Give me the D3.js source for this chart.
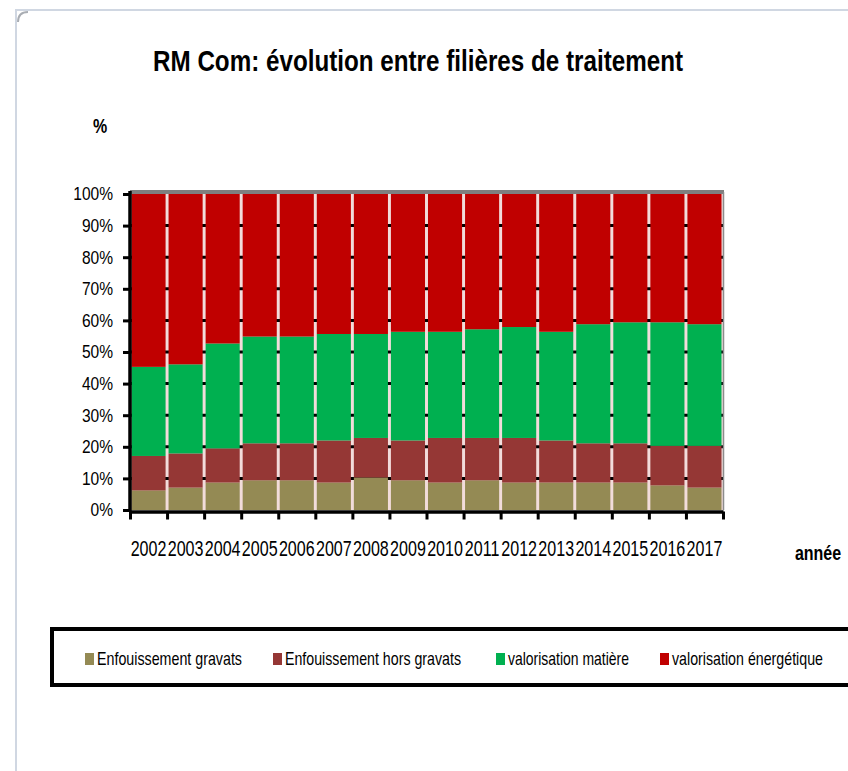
<!DOCTYPE html>
<html>
<head>
<meta charset="utf-8">
<script src="https://cdn.jsdelivr.net/npm/d3@7"></script>
<style>
  body { margin: 0; background: #fff; }
  text { font-family: "Liberation Sans", Arial, sans-serif; fill: #000; }
</style>
</head>
<body>
<div id="chart"></div>
<script>
// data (shares in %) //
let years = ["2002","2003","2004","2005","2006","2007","2008","2009","2010","2011","2012","2013","2014","2015","2016","2017"];
let gravats     = [6.2, 7.1, 8.7, 9.4, 9.4, 8.7, 10.3, 9.4, 8.7, 9.4, 8.7, 8.7, 8.7, 8.7, 7.8, 7.1];
let horsGravats = [10.9, 10.8, 10.8, 11.7, 11.7, 13.3, 12.5, 12.6, 14.1, 13.4, 14.1, 13.3, 12.4, 12.4, 12.5, 13.2];
let matiere     = [28.2, 28.2, 33.2, 33.8, 33.8, 33.7, 32.9, 34.4, 33.6, 34.4, 35.1, 34.4, 37.7, 38.3, 39.1, 38.5];
let energetique = [54.7, 53.9, 47.3, 45.1, 45.1, 44.3, 44.3, 43.6, 43.6, 42.8, 42.1, 43.6, 41.2, 40.6, 40.6, 41.2];
let seriesNames = ["Enfouissement gravats", "Enfouissement hors gravats", "valorisation matière", "valorisation énergétique"];
let yTicks = [0, 10, 20, 30, 40, 50, 60, 70, 80, 90, 100];

let keys = ["g", "h", "m", "e"];
let colors = {g: "#948a54", h: "#953735", m: "#00b050", e: "#c00000"};

let table = years.map(function(y, i) {
    return {year: y, g: gravats[i], h: horsGravats[i], m: matiere[i], e: energetique[i]};
});

// chart setup //
let SVGwidth = 848, SVGheight = 771;
let plot = {left: 130, right: 723, top: 194, bottom: 510};

let svg = d3.select("#chart").append("svg")
    .attr("width", SVGwidth)
    .attr("height", SVGheight);

// squeeze text horizontally (the original font is a narrow one)
function squeeze(sel, factor) {
    sel.each(function() {
        let w = this.getComputedTextLength();
        d3.select(this).attr("textLength", w * factor).attr("lengthAdjust", "spacingAndGlyphs");
    });
}

// panel border
svg.append("path")
    .attr("d", "M16,771 L16,10 L848,10")
    .attr("fill", "none")
    .attr("stroke", "#d0d7e2")
    .attr("stroke-width", 2);
svg.append("path")
    .attr("d", "M18,22 Q18,12 28,12")
    .attr("fill", "none")
    .attr("stroke", "#a9adb3")
    .attr("stroke-width", 2);

let xScale = d3.scaleBand().domain(years).range([plot.left, plot.right])
    .paddingInner(0.08).paddingOuter(0.04);
let xEdge = d3.scaleLinear().domain([0, years.length]).range([plot.left, plot.right]);
let yScale = d3.scaleLinear().domain([0, 100]).range([plot.bottom, plot.top]);

// plot background (shows through the gaps)
svg.append("rect")
    .attr("x", plot.left)
    .attr("y", plot.top)
    .attr("width", plot.right - plot.left)
    .attr("height", plot.bottom - plot.top)
    .attr("fill", "#f2dcdb");

// gridlines behind bars
svg.append("g").selectAll("line")
    .data(yTicks.slice(1, -1))
    .enter().append("line")
    .attr("x1", plot.left)
    .attr("x2", plot.right)
    .attr("y1", function(d) { return yScale(d); })
    .attr("y2", function(d) { return yScale(d); })
    .attr("stroke", "#000")
    .attr("stroke-width", 3);

let stacked = d3.stack().keys(keys)(table);

svg.append("g").selectAll("g")
    .data(stacked)
    .enter().append("g")
    .attr("fill", function(d) { return colors[d.key]; })
    .selectAll("rect")
    .data(function(d) { return d; })
    .enter().append("rect")
    .attr("x", function(d) { return xScale(d.data.year); })
    .attr("width", xScale.bandwidth())
    .attr("y", function(d) { return yScale(d[1]); })
    .attr("height", function(d) { return yScale(d[0]) - yScale(d[1]); });

// top and right border of plot area
svg.append("line")
    .attr("x1", plot.left).attr("x2", plot.right + 1)
    .attr("y1", plot.top - 2).attr("y2", plot.top - 2)
    .attr("stroke", "#7f7f7f").attr("stroke-width", 4);
svg.append("line")
    .attr("x1", plot.right + 0.5).attr("x2", plot.right + 0.5)
    .attr("y1", plot.top - 2).attr("y2", plot.bottom)
    .attr("stroke", "#8c8c8c").attr("stroke-width", 1.5);

// y axis
let yAxis = svg.append("g")
    .attr("transform", "translate(" + plot.left + ",0)")
    .call(d3.axisLeft(yScale).tickValues(yTicks).tickFormat(function(d) { return d + "%"; })
        .tickSize(7).tickPadding(10).tickSizeOuter(0));
yAxis.select(".domain").attr("stroke-width", 3.5).attr("d", "M0," + (plot.top - 3) + "V" + (plot.bottom + 2));
yAxis.selectAll(".tick line").attr("stroke-width", 3);
yAxis.selectAll("text").style("font-size", "18.5px").attr("fill", "#111");
squeeze(yAxis.selectAll("text"), 0.84);

// x axis: ticks at the category edges
let xTickAxis = svg.append("g")
    .attr("transform", "translate(0," + (plot.bottom + 1.5) + ")")
    .call(d3.axisBottom(xEdge).tickValues(d3.range(0, years.length + 1)).tickFormat("")
        .tickSize(8).tickSizeOuter(0));
xTickAxis.select(".domain").attr("stroke-width", 3.5);
xTickAxis.selectAll(".tick line").attr("stroke-width", 3);

let xAxis = svg.append("g")
    .attr("transform", "translate(0," + (plot.bottom + 1.5) + ")")
    .call(d3.axisBottom(xScale).tickSize(0).tickPadding(29));
xAxis.select(".domain").remove();
xAxis.selectAll("text").style("font-size", "22px").attr("fill", "#111");
squeeze(xAxis.selectAll("text"), 0.73);

// titles //
svg.append("text")
    .attr("x", 418)
    .attr("y", 71)
    .style("text-anchor", "middle")
    .style("font-size", "30px")
    .style("font-weight", "bold")
    .attr("textLength", 530)
    .attr("lengthAdjust", "spacingAndGlyphs")
    .text("RM Com: évolution entre filières de traitement");

let pct = svg.append("text")
    .attr("x", 100)
    .attr("y", 133)
    .style("text-anchor", "middle")
    .style("font-size", "20px")
    .style("font-weight", "bold")
    .text("%");
squeeze(pct, 0.8);

let annee = svg.append("text")
    .attr("x", 818)
    .attr("y", 560)
    .style("text-anchor", "middle")
    .style("font-size", "20px")
    .style("font-weight", "bold")
    .text("année");
squeeze(annee, 0.8);

// legend //
svg.append("rect")
    .attr("x", 52)
    .attr("y", 629)
    .attr("width", 820)
    .attr("height", 56)
    .attr("fill", "#fff")
    .attr("stroke", "#000")
    .attr("stroke-width", 4);

let legendX = [85, 273, 496, 660];
let legendW = [145, 176, 121, 151];
let legend = svg.selectAll(".legend")
    .data(keys)
    .enter().append("g")
    .attr("class", "legend")
    .attr("transform", function(d, i) { return "translate(" + legendX[i] + ",653)"; });

legend.append("rect")
    .attr("width", 9)
    .attr("height", 12)
    .attr("fill", function(d) { return colors[d]; });

legend.append("text")
    .attr("x", 12)
    .attr("y", 12)
    .style("font-size", "19px")
    .attr("textLength", function(d, i) { return legendW[i]; })
    .attr("lengthAdjust", "spacingAndGlyphs")
    .text(function(d, i) { return seriesNames[i]; });
</script>
</body>
</html>
